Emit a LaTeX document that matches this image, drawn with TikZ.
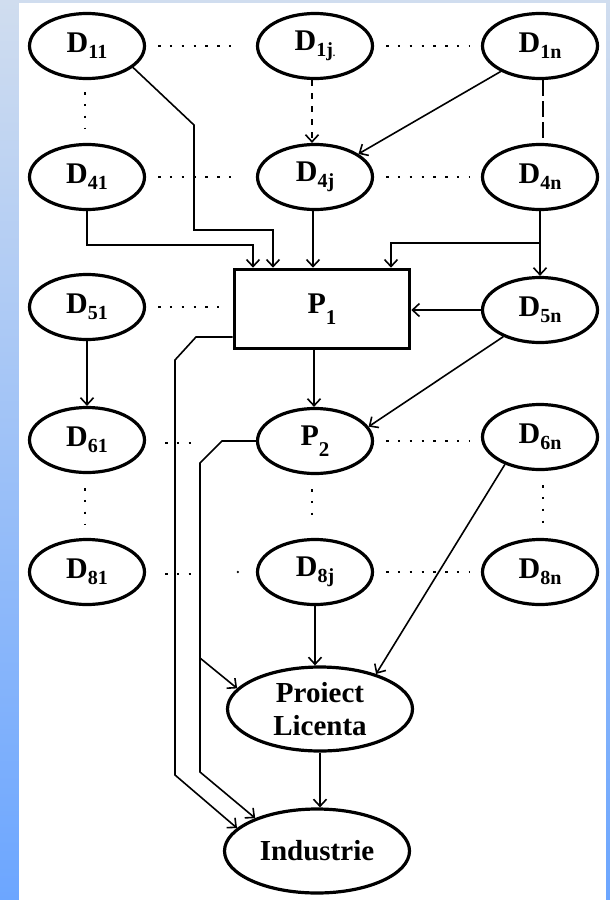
\documentclass[tikz,border=0pt]{standalone}
\usepackage{fontspec}
\setmainfont{Liberation Serif}
\usetikzlibrary{shapes.geometric,arrows.meta}
\definecolor{bgtop}{RGB}{208,221,239}
\definecolor{bgbot}{RGB}{108,166,255}
\newcommand{\DD}[1]{\fontsize{30}{32}\selectfont\bfseries D\raisebox{-6pt}{\fontsize{20}{20}\selectfont #1}}
\newcommand{\PP}[1]{\fontsize{30}{32}\selectfont\bfseries P\raisebox{-11pt}{\fontsize{21}{21}\selectfont #1}}
\tikzset{
  ell/.style={ellipse, draw, line width=3.2pt, minimum width=115pt, minimum height=65pt, inner sep=0pt},
  bigell/.style={ellipse, draw, line width=3.2pt, minimum width=185pt, minimum height=84pt, inner sep=0pt, align=center, font=\fontsize{29}{33}\selectfont\bfseries},
  pbox/.style={rectangle, draw, line width=3.6pt, minimum width=175pt, minimum height=79pt, inner sep=0pt},
  arr/.style={line width=1.6pt, -{Straight Barb[length=7pt,width=13pt,line width=1.6pt]}},
  dotline/.style={line width=2.4pt, dash pattern=on 2.4pt off 9.4pt},
}
\begin{document}
\begin{tikzpicture}[x=1pt,y=-1pt]
\useasboundingbox (0,0) rectangle (610,900);
\shade[top color=bgtop, bottom color=bgbot] (0,0) rectangle (610,900);
\fill[white] (19,3) rectangle (606,900);

% nodes
\node[ell] (D11) at (87,46) {\DD{11}};
\node[ell] (D1j) at (315,46) {\DD{1j{\fontsize{10}{10}\selectfont.}}};
\node[ell] (D1n) at (540,46) {\DD{1n}};
\node[ell] (D41) at (87,177) {\DD{41}};
\node[ell] (D4j) at (315,177) {\DD{4j}};
\node[ell] (D4n) at (540,177) {\DD{4n}};
\node[ell] (D51) at (87,307) {\DD{51}};
\node[pbox] (P1) at (322,309) {\PP{1}};
\node[ell] (D5n) at (540,310) {\DD{5n}};
\node[ell] (D61) at (87,440) {\DD{61}};
\node[ell] (P2) at (315,441) {\PP{2}};
\node[ell] (D6n) at (540,437) {\DD{6n}};
\node[ell] (D81) at (87,572) {\DD{81}};
\node[ell] (D8j) at (315,572) {\DD{8j}};
\node[ell] (D8n) at (540,572) {\DD{8n}};
\node[bigell] (PL) at (320,709) {Proiect\\Licenta};
\node[bigell] (Ind) at (317,851) {Industrie};

% dotted links
\draw[dotline] ([xshift=12pt]D11.east) -- ([xshift=-16pt]D1j.west);
\draw[dotline] ([xshift=12pt]D1j.east) -- ([xshift=-12pt]D1n.west);
\draw[dotline] ([xshift=12pt]D41.east) -- ([xshift=-16pt]D4j.west);
\draw[dotline] ([xshift=12pt]D4j.east) -- ([xshift=-12pt]D4n.west);
\draw[dotline] ([xshift=12pt]D51.east) -- ([xshift=-14pt]P1.west |- D51.east);
\draw[dotline] ([xshift=12pt]P2.east) -- ([xshift=-12pt]D6n.west |- P2.east);
\draw[dotline] ([xshift=12pt]D8j.east) -- ([xshift=-12pt]D8n.west);
\draw[dotline] ([xshift=19pt,yshift=-3pt]D61.east) -- ++(26,0);
\draw[dotline] ([xshift=19pt,yshift=-2pt]D81.east) -- ++(26,0);
\fill ([xshift=-18pt]D8j.west) circle (1.3pt);
\draw[dotline] ([xshift=-2pt,yshift=-12pt]D11.south) -- ([xshift=-2pt,yshift=14pt]D41.north);
\draw[dotline] ([xshift=-2pt,yshift=-14pt]D61.south) -- ([xshift=-2pt,yshift=14pt]D81.north);
\draw[dotline] ([xshift=-3pt,yshift=-14pt]P2.south) -- ([xshift=-3pt,yshift=14pt]D8j.north);
\draw[dotline] ([xshift=3pt,yshift=-14pt]D6n.south) -- ([xshift=3pt,yshift=14pt]D8n.north);

% dashed links
\draw[arr, dash pattern=on 6pt off 7pt] ([xshift=-3pt]D1j.south) -- ([xshift=-3pt]D4j.north);
\draw[line width=2.4pt, dash pattern=on 16pt off 5pt] ([xshift=3pt]D1n.south) -- ([xshift=3pt]D4n.north);

% arrows into P1
\draw[arr] (D11.-25) -- (194,125) -- (194,230) -| ([xshift=-49pt]P1.north);
\draw[arr] (D41.south) -- (87,245) -| ([xshift=-69pt]P1.north);
\draw[arr] ([xshift=-2pt]D4j.south) -- ([xshift=-2pt]D4j.south |- P1.north);
\draw[arr] (D4n.south) -- (D5n.north);
\coordinate (b4) at (540,243);
\draw[arr] (b4) -| ([xshift=69pt]P1.north);
\draw[arr] (D1n.-147) -- (D4j.28);
\draw[arr] (D5n.west) -- (P1.east |- D5n.west);

% lower arrows
\draw[arr] (D51.south) -- (D61.north);
\draw[arr] ([xshift=-1pt]P2.north |- P1.south) -- ([xshift=-1pt]P2.north);
\draw[arr] (D5n.-144) -- (P2.15);
\draw[arr] (D6n.-142) -- (PL.32);
\draw[arr] (D8j.south) -- (D8j.south |- PL.north);
\draw[arr] (PL.south) -- (PL.south |- Ind.north);

% long routes
\draw[arr] ([yshift=-28pt]P1.west) -- (196,337) -- (175,360) -- (175,775) -- (Ind.164);
\draw[arr] (P2.west) -- (222,441) -- (200,463) -- (200,772) -- (Ind.152);
\coordinate (b2) at (200,658);
\draw[arr] (b2) -- (PL.166);
\end{tikzpicture}
\end{document}
